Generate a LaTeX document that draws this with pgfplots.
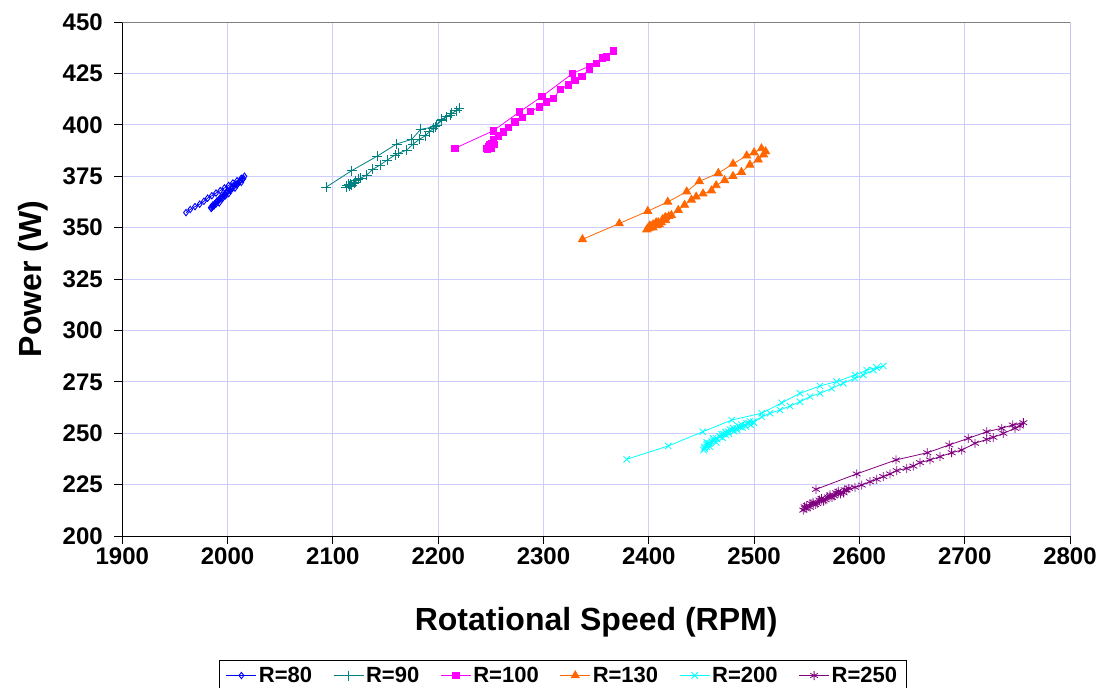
\documentclass[border=0pt]{standalone}
\usepackage{fontspec}
\setmainfont{Liberation Sans}
\usepackage{pgfplots}
\pgfplotsset{compat=1.18}
\definecolor{gridc}{RGB}{205,205,255}
\definecolor{cteal}{RGB}{0,128,128}
\definecolor{corange}{RGB}{255,102,0}
\definecolor{cpurple}{RGB}{128,0,128}
\definecolor{cmag}{RGB}{255,0,255}
\definecolor{ccyan}{RGB}{0,255,255}
\definecolor{cblue}{RGB}{0,0,255}
\begin{document}
\begin{tikzpicture}
\begin{axis}[
 scale only axis, width=947.7pt, height=514pt,
 xmin=1900,xmax=2800,ymin=200,ymax=450,
 xtick distance=100, ytick distance=25,
 grid=major, major grid style={color=gridc, line width=0.9pt},
 axis lines=left, axis line style={-, line width=0.9pt, black},
 tick align=outside, major tick length=8pt, tick style={black, line width=0.9pt},
 tick label style={font=\fontsize{24}{27}\selectfont\bfseries},
 yticklabel style={xshift=-8pt},
 /pgf/number format/assume math mode=true,
 /pgf/number format/set thousands separator={},
 xlabel={Rotational Speed (RPM)}, ylabel={Power (W)},
 label style={font=\fontsize{32}{37}\selectfont\bfseries},
 xlabel style={at={(axis description cs:0.5,-0.167)},anchor=center},
 ylabel style={at={(axis description cs:-0.0942,0.5)},anchor=center},
 legend columns=6,
 legend style={at={(axis description cs:0.4645,-0.241)}, anchor=north,
   font=\fontsize{22}{25}\selectfont\bfseries,
   /tikz/every even column/.append style={column sep=19pt},
   inner xsep=7pt, inner ysep=5pt},
 legend image code/.code={\draw[#1,mark=none,line width=1pt] (0pt,0pt) -- (30pt,0pt);\draw[#1,only marks] plot coordinates {(15pt,0pt)};},
 every axis plot/.append style={line width=0.8pt},
]
\addplot[color=cblue, mark=diamond, mark size=3.2pt, mark options={solid,line width=0.9pt}] coordinates {
(1960.5,357.3)(1964.5,358.8)(1969,360.2)(1973.5,361.4)(1977.5,362.8)(1981,364.3)(1985,365.5)(1989,366.8)(1993,368)(1997,369.3)(2001,370.5)(2005,371.7)(2009,372.8)(2013,374)(2016,375)
(2014,373.5)(2011,372.3)(2008,371)(2005,369.5)(2002,368.3)(1999,367)(1996,365.8)(1993,364.5)(1990,363)(1987.5,361.5)(1985.5,360)(1984.5,359.3)
(1987,360.5)(1990,362.5)(1992,362)(1995,364.8)(1998,365.5)(2000,367.5)(2003,368)(2006,370.2)(2009,370.8)(2012,372.8)(2015,373.8)(2013,372)(2010,371.5)(2007,369.2)(2004,369)(2001,366.5)(1998,366.3)(1995,364)(1992,363.5)(1989,361.5)(1986,361)(1984,359.8)};
\addlegendentry{R=80}
\addplot[color=cteal, mark=+, mark size=5pt] coordinates {
(2093.4,369.6)(2117.8,377.7)(2142.2,384.8)(2160.6,390.7)(2174.8,392.9)(2183.4,397.8)(2197.0,399.1)(2203.3,402.7)(2211.2,404.8)(2220.0,408.0)
(2217.6,406.9)(2212.8,405.6)(2208.1,403.9)(2203.3,402.0)(2198.6,399.9)(2195.4,398.3)(2191.6,396.6)(2187.5,394.6)(2182.1,392.9)(2176.4,390.7)(2170.1,387.7)(2162.1,386.1)(2159.0,385.3)(2151.7,382.9)(2144.7,380.4)(2137.8,378.3)(2132.1,375.6)(2126.4,374.0)(2121.0,372.8)(2116.3,371.2)(2112.5,369.6)
(2115,371)(2118,370.5)(2121,372)(2124,373.5)(2120,371.5)(2116,370)(2113,370.3)};
\addlegendentry{R=90}
\addplot[color=cmag, mark=square*, mark size=3.2pt] coordinates {
(2216.0,388.6)(2252.3,397.1)(2277.0,406.2)(2298.3,413.7)(2327.7,425.0)(2343.5,428.5)(2356,432.5)(2366.3,436.0)
(2360.0,433.1)(2350.5,429.9)(2343.5,427.0)(2336.3,423.4)(2329.9,421.5)(2323.5,419.4)(2316.3,417.3)(2309.3,412.9)(2303.0,411.2)(2296.0,408.8)(2287.8,406.4)(2280.2,403.6)(2272.9,401.5)(2266.6,398.8)(2261.8,396.6)(2257.1,394.6)(2252.3,392.6)(2249.2,390.2)(2246.1,388.6)
(2248,389.5)(2250,388.8)(2251,391)(2253,390.5)(2250,390)(2247,388)};
\addlegendentry{R=100}
\addplot[color=corange, mark=triangle*, mark size=4.6pt] coordinates {
(2337,344.3)(2372,352)(2399,358)(2418,362.5)(2436,367.5)(2448,372.5)(2466,376.5)(2480,381)(2493,385)(2500,386.5)(2507,388.5)(2511,387)
(2509,385.5)(2504,383)(2496,380.5)(2488,377)(2480,375)(2472,373)(2464,370.5)(2459.5,368)(2451.5,366.5)(2445,365)(2440.5,363.5)(2434,361)(2428,358.5)(2421.5,356)(2415,354.5)(2409,352.5)(2406,351.5)(2403,350.5)(2401,350)(2399,349.5)(2398,349)
(2401,351)(2404,350)(2407,352.5)(2410,351.5)(2413,354)(2416,353.5)(2419,355.5)(2416,355)(2412,352.5)(2408,351)(2404,351.5)(2400,349.8)};
\addlegendentry{R=130}
\addplot[color=ccyan, mark=x, mark size=4.5pt] coordinates {
(2379,237.3)(2418.5,243.8)(2451.2,250.7)(2478.7,256.4)(2507.2,259.7)(2526.2,264.8)(2543.6,269.4)(2562.6,273.0)(2578.4,275.1)(2595.8,278.3)(2606.9,280.7)(2616.4,282.0)(2622.7,282.7)
(2613.2,280.7)(2603.7,278.3)(2595.8,276.7)(2584.7,274.3)(2573.7,271.8)(2562.6,269.4)(2553.1,267.8)(2543.6,265.3)(2534.1,263.2)(2524.6,261.3)(2515.1,259.7)(2507.2,258.0)(2499.2,255.6)(2495,254.8)(2491.4,254)(2487,253)(2483.5,252.4)(2479,251.5)(2475.5,250.7)(2471,249.5)(2467.6,248.3)(2464,247.5)(2459.7,245.9)(2457,245)(2455,243.4)(2453,242.5)(2452,241.8)
(2455,244.5)(2458,243.5)(2461,246.5)(2464,245.5)(2467,248.5)(2470,247.8)(2473,250.5)(2476,249.8)(2480,252.5)(2484,251.5)(2488,254.2)(2492,253.3)(2496,255.8)(2500,255)(2497,254)(2493,254.8)(2489,252.8)(2485,253.5)(2481,251)(2477,251.8)(2473,249.2)(2469,249.5)(2465,247)(2461,247.5)(2458,245)(2455,245.5)(2453,243.2)};
\addlegendentry{R=200}
\addplot[color=cpurple, mark=asterisk, mark size=4.5pt] coordinates {
(2558.8,222.7)(2597.4,230.2)(2634.8,237.0)(2664.5,240.5)(2685.4,244.3)(2703.4,247.5)(2720.9,250.7)(2735.1,252.4)(2745.6,254.0)(2755.7,255.1)
(2752.5,253.5)(2747.8,252.4)(2736.7,249.9)(2727.2,248.0)(2720.9,247.0)(2709.8,245.1)(2697.1,241.8)(2687.6,240.5)(2676.5,238.6)(2667.0,237.0)(2657.5,235.7)(2651.2,234.0)(2644.9,232.9)(2635.4,231.8)(2629.1,230.2)(2622.7,228.9)(2616.4,227.6)(2610.0,226.4)(2602.2,224.8)(2595.8,223.7)(2587.9,222.4)(2580.0,220.8)(2572.1,219.1)(2564.2,217.5)(2556.2,215.6)(2548.3,213.5)(2546.7,212.6)
(2550,214.8)(2553,214)(2556,216.5)(2560,215.8)(2564,218.3)(2568,217.6)(2572,220)(2576,219.5)(2580,221.8)(2585,221)(2590,223.2)(2586,222.5)(2582,220.5)(2578,221)(2574,218.8)(2570,219)(2566,217)(2562,217.5)(2558,215.3)(2554,215.8)(2550,213.5)(2548,214.2)};
\addlegendentry{R=250}
\draw[gray, line width=0.9pt] (rel axis cs:0,1) -- (rel axis cs:1,1) -- (rel axis cs:1,0);
\end{axis}
\pgfresetboundingbox
\path[use as bounding box] (-122.3pt,-152pt) rectangle (980.7pt,536pt);
\end{tikzpicture}
\end{document}
